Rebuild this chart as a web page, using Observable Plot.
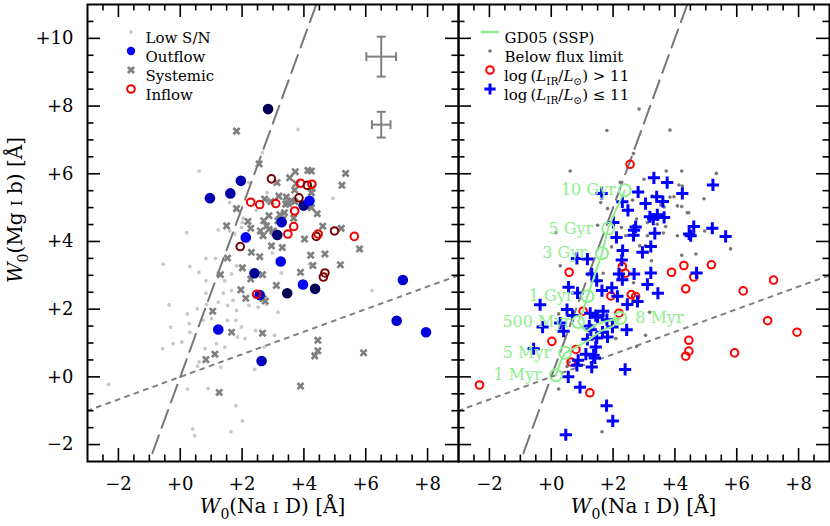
<!DOCTYPE html>
<html><head><meta charset="utf-8">
<script src="https://cdn.jsdelivr.net/npm/d3@7"></script>
<script src="https://cdn.jsdelivr.net/npm/@observablehq/plot@0.6"></script>
<style>
body{margin:0;background:#fff;}
#wrap{position:relative;width:830px;height:526px;}
#wrap svg{position:absolute;top:0;overflow:visible;background:transparent;}
</style></head><body><div id="wrap"></div>
<script>
// ---------------- data ----------------
const xDomain = [-3, 9];
const yDomain = [-2.5, 11];
const xTickValues = [-2, 0, 2, 4, 6, 8];
const yTickValues = [-2, 0, 2, 4, 6, 8, 10];

// Left panel
const lowSN = [[0.21,4.26],[-0.55,3.33],[0.31,3.26],[0.6,3.09],[0.83,3.5],[0.83,2.84],[1.14,3.5],[1.44,2.84],[1.66,3.04],[1.82,3.28],[0.83,2.47],[1.39,2.47],[1.66,2.55],[-0.36,2.13],[0.23,1.86],[0.55,2.01],[0.85,2.14],[1.23,2.21],[1.53,2.11],[1.82,1.96],[1.71,2.26],[2.22,2.11],[2.52,2.06],[2.79,2.14],[-0.31,1.47],[0.29,1.57],[0.74,1.67],[1.01,1.72],[1.53,1.67],[1.8,1.67],[1.98,1.47],[2.44,1.37],[3.16,1.91],[-0.57,0.83],[-0.23,0.98],[0.05,1.03],[0.31,1.32],[0.8,0.83],[1.17,0.98],[1.44,0.88],[1.85,1.18],[2.09,1.13],[2.71,0.88],[2.41,0.22],[-2.32,-0.22],[0.61,0.44],[0.56,0.32],[1.31,0.29],[0.9,-0.34],[0.24,-0.36],[1.8,-0.85],[2.01,-1.3],[0.4,-1.54],[0.47,-1.74],[1.64,-1.62],[3.81,7.31],[0.61,6.08],[4.94,5.27],[2.66,6.62],[2.22,5.74],[2.81,5.44],[1.6,5.15],[2.46,4.92],[2.03,4.69],[1.23,4.34],[1.6,4.31],[1.76,4.22],[2.01,4.56],[1.98,4.41],[6.2,2.55],[3.05,1.23],[4.18,3.33],[3.27,3.07],[2.98,3.66]];
const systemic = [[1.82,7.26],[2.55,6.29],[3.72,6.06],[4.13,6.1],[4.24,6.08],[5.35,6.01],[5.23,5.66],[3.13,5.74],[3.54,5.88],[3.75,5.71],[3.7,5.52],[4.27,5.57],[4.24,5.44],[3.19,5.34],[3.43,5.31],[3.6,5.2],[3.5,5.12],[3.41,5.1],[3.7,5.18],[2.93,5.18],[2.73,5.25],[4.08,5.07],[4.24,5.0],[4.43,4.82],[1.82,4.97],[2.87,4.76],[3.22,4.79],[3.37,4.85],[2.7,4.61],[3.16,4.61],[3.32,4.66],[3.67,4.69],[2.19,4.59],[1.5,4.46],[2.28,4.39],[2.79,4.46],[2.87,4.36],[2.59,4.31],[3.0,4.31],[4.61,4.45],[5.21,4.39],[4.02,4.07],[5.8,3.78],[1.53,3.51],[2.3,3.68],[2.57,3.55],[4.68,3.63],[4.22,3.59],[2.01,3.22],[4.29,3.29],[5.18,3.31],[1.3,3.02],[2.66,3.02],[2.28,2.89],[3.89,3.09],[3.11,2.7],[1.96,2.57],[2.12,2.32],[2.68,2.31],[2.75,2.24],[1.05,1.94],[1.66,1.32],[2.66,1.29],[4.45,1.08],[4.45,0.77],[4.35,0.62],[5.93,0.71],[1.12,0.67],[0.83,0.51],[3.89,-0.27],[1.26,-0.46],[2.95,3.87],[3.3,3.82],[2.68,4.17],[3.05,4.26]];
// [x, y, relative outflow strength 0 (weak) .. 1 (strong)]
const outflow = [[2.84,7.91,0.85],[1.96,5.79,0.4],[1.62,5.42,0.45],[0.96,5.28,0.4],[3.99,5.06,0.6],[4.18,5.2,0.0],[3.28,4.57,0.3],[3.14,4.19,0.7],[2.12,4.12,0.05],[3.25,3.41,0.1],[2.4,3.06,0.55],[3.97,2.73,0.05],[4.36,2.6,0.85],[3.46,2.47,0.9],[2.57,2.42,0.3],[7.2,2.86,0.25],[7.0,1.66,0.25],[7.95,1.32,0.15],[1.23,1.4,0.15],[2.63,0.47,0.35]];
// [x, y, strong inflow flag]
const inflow = [[2.95,5.85,1],[3.89,5.72,0],[4.11,5.66,1],[4.26,5.69,0],[2.28,5.16,0],[2.57,5.09,0],[3.09,5.12,0],[3.84,5.29,1],[3.7,4.9,0],[3.67,4.44,0],[3.48,4.22,0],[4.4,4.15,1],[4.46,4.22,0],[4.99,4.31,1],[5.63,4.15,0],[1.94,3.85,1],[4.68,3.07,1],[4.63,2.95,1],[2.47,2.44,0]];
const errBars = [{x: 6.5, y: 9.46, ex: 0.48, ey: 0.59}, {x: 6.5, y: 7.45, ex: 0.3, ey: 0.38}];

// Right panel
const belowFlux = [[1.8,7.28],[3.84,7.29],[2.84,7.91],[0.61,6.08],[2.66,6.6],[3.72,6.08],[4.22,6.08],[5.34,6.01],[3.0,5.84],[2.23,5.75],[4.13,5.67],[4.24,5.64],[4.94,5.26],[3.97,5.32],[3.84,5.31],[3.27,5.34],[1.6,5.15],[2.63,5.22],[3.54,5.08],[3.65,5.02],[4.08,5.05],[4.22,5.03],[4.4,4.85],[1.82,4.97],[2.76,4.66],[3.11,4.56],[3.43,4.51],[3.7,4.44],[1.5,4.48],[2.27,4.41],[2.41,4.17],[3.11,4.17],[3.63,4.25],[4.96,4.31],[0.15,4.26],[4.08,4.17],[0.29,3.28],[1.95,3.84],[2.86,3.87],[3.05,3.87],[1.68,3.06],[2.66,2.78],[0.24,1.86],[2.09,1.13],[2.76,0.9],[0.24,-0.36],[1.64,-1.62],[0.58,0.44],[0.51,0.31],[3.11,3.68],[4.22,3.59],[4.68,3.63],[3.18,1.91],[3.24,3.43],[3.05,1.23],[5.8,3.78],[4.45,4.85]];
const lirHigh = [[2.55,6.28],[-2.32,-0.24],[0.02,1.05],[0.58,3.09],[0.8,0.81],[0.64,0.44],[1.03,1.94],[1.25,-0.47],[1.93,2.39],[2.19,1.88],[2.3,3.26],[2.4,3.06],[2.59,2.43],[2.73,2.37],[3.89,3.09],[4.29,3.29],[4.61,2.95],[4.35,2.6],[5.18,3.31],[6.21,2.54],[7.19,2.86],[7.0,1.66],[7.95,1.32],[4.45,1.08],[4.45,0.76],[4.35,0.61],[5.93,0.71]];
const lirLow = [[3.32,5.88],[3.75,5.74],[5.23,5.67],[4.24,5.42],[1.63,5.42],[2.81,5.46],[3.41,5.32],[2.3,5.17],[3.05,5.12],[3.61,5.18],[2.48,4.92],[3.19,4.73],[3.3,4.66],[3.43,4.79],[3.65,4.71],[2.01,4.56],[2.73,4.43],[2.68,4.33],[3.35,4.24],[4.61,4.44],[5.21,4.39],[4.46,4.22],[4.51,4.17],[5.64,4.15],[2.11,4.12],[2.66,4.18],[3.22,3.85],[2.31,3.73],[2.95,3.68],[0.83,3.5],[1.17,3.48],[2.28,3.45],[1.31,3.04],[2.19,3.04],[2.68,3.04],[1.47,2.84],[2.3,2.87],[3.11,2.73],[0.56,2.65],[1.64,2.55],[1.96,2.63],[0.85,2.48],[2.14,2.38],[2.79,2.23],[-0.36,2.13],[2.46,2.14],[0.51,1.99],[1.26,1.88],[1.44,1.81],[1.68,1.94],[0.69,1.81],[1.5,1.76],[1.8,1.69],[1.98,1.47],[2.44,1.39],[-0.28,1.47],[-0.57,0.83],[0.29,1.59],[0.4,1.35],[1.23,1.5],[1.28,1.39],[1.66,1.32],[1.82,1.18],[1.47,1.15],[1.17,1.11],[1.44,0.88],[1.12,0.67],[1.37,0.64],[1.41,0.56],[0.87,0.49],[0.83,0.34],[1.31,0.29],[2.39,0.22],[0.55,0.0],[0.93,-0.31],[1.79,-0.85],[1.99,-1.3],[0.47,-1.71],[4.7,3.07],[3.22,3.07],[3.45,2.47]];
// GD05 SSP model track (ordered by age) and labelled ages
const sspTrack = [[0.15,0.05],[0.3,0.45],[0.45,0.71],[0.75,0.85],[1.15,1.05],[1.6,1.35],[2.0,1.5],[2.23,1.74],[1.8,1.65],[1.45,1.55],[1.15,1.35],[1.0,1.45],[0.87,1.62],[1.05,2.0],[1.17,2.38],[1.4,3.0],[1.64,3.65],[1.84,4.38],[2.1,4.95],[2.38,5.51]];
const sspAges = ["1 Myr", "5 Myr", "8 Myr", "500 Myr", "1 Gyr", "3 Gyr", "5 Gyr", "10 Gyr"];
const sspAgePts = [[0.15,0.05],[0.45,0.71],[2.23,1.74],[0.87,1.62],[1.17,2.38],[1.64,3.65],[1.84,4.38],[2.38,5.51]];
// Reference relations through the origin: W(Mg) = slope * W(Na)
const refSlopes = {dashed: 2.5, dotted: 1 / 3};

const leftLegend = ["Low S/N", "Outflow", "Systemic", "Inflow"];
const rightLegend = ["GD05 (SSP)", "Below flux limit"];

// ---------------- drawing ----------------
const FONT = '"DejaVu Serif", "Liberation Serif", serif';
const W = 371, H = 457;
const fmt = d => d > 0 ? `+${d}` : d < 0 ? `\u2212${-d}` : "+0";
const vbar = {draw(ctx, size) { const r = Math.sqrt(size / Math.PI); ctx.moveTo(0, -r); ctx.lineTo(0, r); }};
const hbar = {draw(ctx, size) { const r = Math.sqrt(size / Math.PI); ctx.moveTo(-r, 0); ctx.lineTo(r, 0); }};
const lightGreen = "#90ee90";
const LEG_Y0 = 27.5, LEG_STEP = 19, LEG_FS = 15;

function frameMarks(yLabels) {
  const L = 13, S = 6.5;
  const xMinor = d3.range(-2.5, 9, 0.5).filter(v => !xTickValues.includes(v));
  const yMinor = d3.range(-2, 11, 0.5).filter(v => !yTickValues.includes(v));
  const tk = {stroke: "black", strokeWidth: 1.6};
  const marks = [
    Plot.tickX(xTickValues, {x: d => d, insetTop: H - L, ...tk}),
    Plot.tickX(xTickValues, {x: d => d, insetBottom: H - L, ...tk}),
    Plot.tickX(xMinor, {x: d => d, insetTop: H - S, ...tk}),
    Plot.tickX(xMinor, {x: d => d, insetBottom: H - S, ...tk}),
    Plot.tickY(yTickValues, {y: d => d, insetRight: W - L, ...tk}),
    Plot.tickY(yTickValues, {y: d => d, insetLeft: W - L, ...tk}),
    Plot.tickY(yMinor, {y: d => d, insetRight: W - S, ...tk}),
    Plot.tickY(yMinor, {y: d => d, insetLeft: W - S, ...tk}),
    Plot.axisX(xTickValues, {tickSize: 0, tickPadding: 16, tickFormat: fmt, fontSize: 18, label: null}),
    Plot.frame({stroke: "black", strokeWidth: 2})
  ];
  if (yLabels) marks.push(Plot.axisY(yTickValues, {tickSize: 0, tickPadding: 14, tickFormat: fmt, fontSize: 18, label: null}));
  return marks;
}

function refLines() {
  return [
    Plot.line(xDomain.map(x => [x, refSlopes.dashed * x]), {x: d => d[0], y: d => d[1], clip: true, stroke: "#777", strokeWidth: 2, strokeDasharray: "19,8"}),
    Plot.line(xDomain.map(x => [x, refSlopes.dotted * x]), {x: d => d[0], y: d => d[1], clip: true, stroke: "#808080", strokeWidth: 2, strokeDasharray: "4,6"})
  ];
}

const xy = {x: d => d[0], y: d => d[1]};
const symLowSN = {fill: "#c8c8c8", r: 1.9};
const symOut = {r: 5.3};
const symSys = {symbol: "times", r: 2.9, stroke: "#808080", strokeWidth: 2.7};
const symIn = {r: 3.8, fill: "none", strokeWidth: 2};
const symBelow = {fill: "#777", r: 1.8};
const symHigh = {r: 3.8, fill: "none", stroke: "#ff0000", strokeWidth: 2};
const symLow = {symbol: "plus", r: 4, stroke: "#0000ff", strokeWidth: 3};
const outColor = d3.interpolateRgb("#0000ff", "#00003a");

function legendRow(i, x0, symbolOpts) {
  return Plot.dot([0], {frameAnchor: "top-left", dx: x0, dy: LEG_Y0 + LEG_STEP * i, ...symbolOpts});
}
function legendText(label, i, tx) {
  return Plot.text([label], {text: d => d, frameAnchor: "top-left", dx: tx, dy: LEG_Y0 + LEG_STEP * i, textAnchor: "start", fontSize: LEG_FS});
}

const left = Plot.plot({
  width: 459, height: 526, marginLeft: 87, marginRight: 1, marginTop: 4, marginBottom: 65,
  x: {domain: xDomain}, y: {domain: yDomain},
  style: {fontFamily: FONT, background: "transparent", overflow: "visible"},
  marks: [
    Plot.dot(lowSN, {...xy, ...symLowSN}),
    ...refLines(),
    Plot.ruleY(errBars, {y: "y", x1: d => d.x - d.ex, x2: d => d.x + d.ex, stroke: "#808080", strokeWidth: 2}),
    Plot.ruleX(errBars, {x: "x", y1: d => d.y - d.ey, y2: d => d.y + d.ey, stroke: "#808080", strokeWidth: 2}),
    Plot.dot(errBars.flatMap(d => [[d.x - d.ex, d.y], [d.x + d.ex, d.y]]), {...xy, symbol: vbar, r: 4.5, fill: "none", stroke: "#808080", strokeWidth: 2}),
    Plot.dot(errBars.flatMap(d => [[d.x, d.y - d.ey], [d.x, d.y + d.ey]]), {...xy, symbol: hbar, r: 4.5, fill: "none", stroke: "#808080", strokeWidth: 2}),
    Plot.dot(systemic, {...xy, ...symSys}),
    Plot.dot(outflow, {...xy, ...symOut, fill: d => outColor(d[2])}),
    Plot.dot(inflow, {...xy, ...symIn, stroke: d => d[2] ? "#7a0000" : "#ee0000"}),
    legendRow(0, 43.5, symLowSN), legendRow(1, 43.5, {...symOut, r: 4.2, fill: "#0000ff"}),
    legendRow(2, 43.5, symSys), legendRow(3, 43.5, {...symIn, stroke: "#ee0000"}),
    ...leftLegend.map((t, i) => legendText(t, i, 58)),
    ...frameMarks(true)
  ]
});

const labelDx = {"1 Myr": -14, "5 Myr": -14, "8 Myr": 15, "500 Myr": -7, "1 Gyr": -14, "3 Gyr": -15, "5 Gyr": -15, "10 Gyr": -9};
const sspLabels = sspAges.map((a, i) => ({age: a, x: sspAgePts[i][0], y: sspAgePts[i][1]}));

const right = Plot.plot({
  width: 373, height: 526, marginLeft: 1, marginRight: 1, marginTop: 4, marginBottom: 65,
  x: {domain: xDomain}, y: {domain: yDomain, axis: null},
  style: {fontFamily: FONT, background: "transparent", overflow: "visible"},
  marks: [
    Plot.dot(belowFlux, {...xy, ...symBelow}),
    ...refLines(),
    Plot.dot(lirHigh, {...xy, ...symHigh}),
    Plot.dot(lirLow, {...xy, ...symLow}),
    Plot.line(sspTrack, {...xy, stroke: lightGreen, strokeWidth: 2}),
    Plot.dot(sspAgePts, {...xy, r: 6, fill: "none", stroke: lightGreen, strokeWidth: 2}),
    ...sspLabels.map(d => Plot.text([d], {x: "x", y: "y", text: "age", dx: labelDx[d.age], textAnchor: labelDx[d.age] > 0 ? "start" : "end", fill: lightGreen, fontSize: 16})),
    legendRow(0, 31.5, {symbol: hbar, r: 9.3, fill: "none", stroke: lightGreen, strokeWidth: 2.5}),
    legendRow(1, 31.5, symBelow), legendRow(2, 31.5, symHigh), legendRow(3, 31.5, {...symLow, r: 3.7}),
    ...rightLegend.map((t, i) => legendText(t, i, 46)),
    ...frameMarks(false)
  ]
});

const wrap = document.getElementById("wrap");
left.style.left = "0px";
right.style.left = "457px";
wrap.appendChild(left);
wrap.appendChild(right);

function rich(svg, {x, y, rotate = 0, anchor = "middle", size = 20, parts}) {
  const t = d3.select(svg).append("text")
    .attr("transform", `translate(${x},${y}) rotate(${rotate})`)
    .attr("text-anchor", anchor).attr("font-size", size)
    .attr("font-family", FONT).attr("fill", "black");
  let shift = 0;
  for (const p of parts) {
    const ts = t.append("tspan").text(p.t);
    const target = p.sub ? size * 0.28 : 0;
    if (target !== shift) { ts.attr("dy", target - shift); shift = target; }
    if (p.i) ts.attr("font-style", "italic");
    if (p.sub) ts.attr("font-size", size * 0.7);
    if (p.sc) ts.attr("font-size", size * 0.72);
  }
}
const naTitle = [{t: "W", i: true}, {t: "0", sub: true}, {t: "(Na "}, {t: "I", sc: true}, {t: " D) [Å]"}];
rich(left, {x: 272.5, y: 513, parts: naTitle});
rich(right, {x: 186.5, y: 513, parts: naTitle});
rich(left, {x: 22, y: 210, rotate: -90, parts: [{t: "W", i: true}, {t: "0", sub: true}, {t: "(Mg "}, {t: "I", sc: true}, {t: " b) [Å]"}]});
const lirParts = op => [{t: "log\u2009("}, {t: "L", i: true}, {t: "IR", sub: true}, {t: "/"}, {t: "L", i: true}, {t: "\u2299", sub: true}, {t: `) ${op} 11`}];
rich(right, {x: 47, y: 4 + 33.5 + 2 * 19 + 5, anchor: "start", size: LEG_FS, parts: lirParts(">")});
rich(right, {x: 47, y: 4 + 33.5 + 3 * 19 + 5, anchor: "start", size: LEG_FS, parts: lirParts("\u2264")});
</script></body></html>
